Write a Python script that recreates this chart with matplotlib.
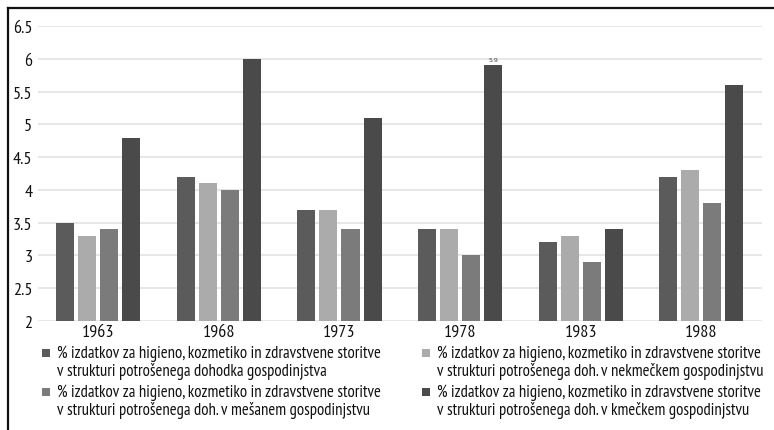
import matplotlib
matplotlib.use("Agg")
import matplotlib.pyplot as plt
import numpy as np
from matplotlib.lines import Line2D
from matplotlib.patches import Rectangle
from matplotlib import font_manager as fm

_avail = {f.name for f in fm.fontManager.ttflist}
_cands = ['PT Sans Narrow', 'Open Sans Condensed', 'Roboto Condensed', 'Fira Sans Condensed']
_fam = [c for c in _cands if c in _avail] + ['DejaVu Sans']
plt.rcParams['font.family'] = _fam

years = ['1963', '1968', '1973', '1978', '1983', '1988']
s1 = [3.5, 4.2, 3.7, 3.4, 3.2, 4.2]
s2 = [3.3, 4.1, 3.7, 3.4, 3.3, 4.3]
s3 = [3.4, 4.0, 3.4, 3.0, 2.9, 3.8]
s4 = [4.8, 6.0, 5.1, 5.9, 3.4, 5.6]
labels = [
    '% izdatkov za higieno, kozmetiko in zdravstvene storitve\nv strukturi potrošenega dohodka gospodinjstva',
    '% izdatkov za higieno, kozmetiko in zdravstvene storitve\nv strukturi potrošenega doh. v nekmečkem gospodinjstvu',
    '% izdatkov za higieno, kozmetiko in zdravstvene storitve\nv strukturi potrošenega doh. v mešanem gospodinjstvu',
    '% izdatkov za higieno, kozmetiko in zdravstvene storitve\nv strukturi potrošenega doh. v kmečkem gospodinjstvu',
]
colors = ['#5b5b5b', '#ababab', '#7b7b7b', '#4a4a4a']
series = [s1, s2, s3, s4]

W, H = 774, 431
fig = plt.figure(figsize=(W / 100, H / 100), dpi=100)
ax = fig.add_axes([0.049, 0.253, 0.935, 0.684])

x = np.arange(len(years))
pitch = 0.183
bw = 0.15
for i, (s, c) in enumerate(zip(series, colors)):
    off = (i - 1.5) * pitch
    ax.bar(x + off, np.array(s) - 2, bw, bottom=2, color=c, zorder=3)

# data label on 1978 series 4
ax.text(x[3] + 1.5 * pitch, s4[3] + 0.05, '5.9', ha='center', va='bottom', fontsize=4.5,
        color='#444444', family='DejaVu Sans')

ax.set_ylim(2, 6.5)
ax.set_xlim(-0.5, len(years) - 0.5)
ax.set_yticks(np.arange(2, 6.51, 0.5))
ax.set_yticklabels(['2', '2.5', '3', '3.5', '4', '4.5', '5', '5.5', '6', '6.5'])
ax.set_xticks(x)
ax.set_xticklabels(years)
ax.yaxis.grid(True, color='#e3e3e3', linewidth=1.2, zorder=0)
ax.set_axisbelow(True)
for sp in ax.spines.values():
    sp.set_visible(False)
ax.tick_params(axis='both', length=0, labelsize=13, colors='#111111')
ax.tick_params(axis='y', pad=4)
ax.tick_params(axis='x', pad=2)

# legend (manual, marker aligned with first line of each entry)
order = [0, 2, 1, 3]
col_x = [46, 426]
row_y = [354, 393]
line_gap = 18
for k, idx in enumerate(order):
    cx = col_x[k // 2]
    cy = row_y[k % 2]
    sq = 8
    fig.add_artist(Rectangle(((cx - sq / 2) / W, 1 - (cy + sq / 2) / H), sq / W, sq / H,
                             transform=fig.transFigure, facecolor=colors[idx], edgecolor='none'))
    for j, line in enumerate(labels[idx].split('\n')):
        fig.text((cx + 11) / W, 1 - (cy + j * line_gap) / H, line, ha='left', va='center',
                 fontsize=12, color='#111111')

# frame lines (left and top)
fig.add_artist(Line2D([8 / W, 8 / W], [0, 1 - 9 / H], transform=fig.transFigure,
                      color='#111111', linewidth=1.6))
fig.add_artist(Line2D([8 / W, 1], [1 - 9 / H, 1 - 9 / H], transform=fig.transFigure,
                      color='#111111', linewidth=1.6))

fig.savefig('out.png', dpi=100, facecolor='white')
